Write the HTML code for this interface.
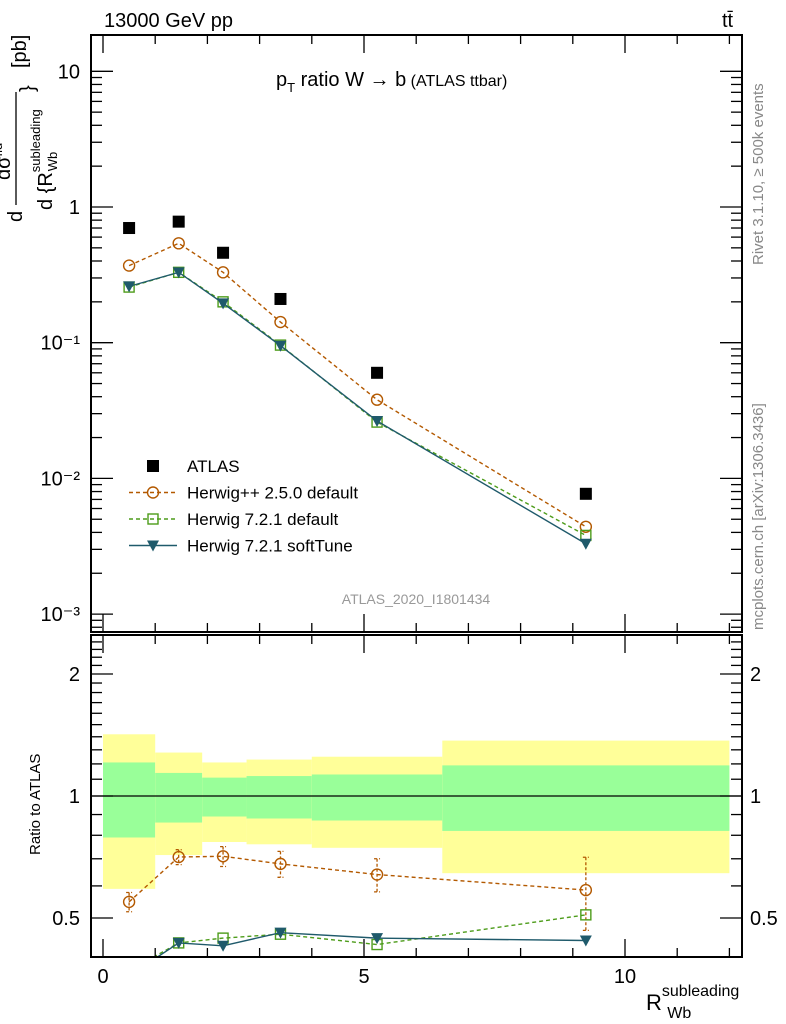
<!DOCTYPE html>
<html><head><meta charset="utf-8"><style>
body{margin:0;background:#fff;}
svg{display:block;font-family:"Liberation Sans",sans-serif;}
</style></head><body>
<svg id="chart" width="786" height="1024" viewBox="0 0 786 1024" xmlns="http://www.w3.org/2000/svg">
<defs>
<clipPath id="clipMain"><rect x="91" y="35" width="651" height="597"/></clipPath>
<clipPath id="clipRatio"><rect x="91" y="635" width="651" height="322"/></clipPath>
</defs>
<text x="104" y="27" font-size="20">13000 GeV pp</text>
<text x="722" y="27" font-size="20">tt̄</text>
<text x="276" y="86" font-size="20">p<tspan font-size="13" dy="6">T</tspan><tspan dy="-6"> ratio W</tspan><tspan> → b</tspan><tspan font-size="16"> (ATLAS ttbar)</tspan></text>
<g transform="rotate(-90)">
  <text x="-222" y="22" font-size="20">d</text>
  <line x1="-205" y1="16" x2="-92" y2="16" stroke="#000" stroke-width="1.3"/>
  <text x="-180" y="10" font-size="20">dσ<tspan font-size="13" dy="-8">fid</tspan></text>
  <text x="-210" y="52" font-size="20">d {R<tspan font-size="13" dy="-12">subleading</tspan><tspan font-size="13" dx="-62" dy="17">Wb</tspan></text>
  <text x="-92" y="34" font-size="20">}</text>
  <text x="-68" y="26" font-size="20">[pb]</text>
</g>
<text transform="translate(40,855) rotate(-90)" font-size="15">Ratio to ATLAS</text>
<text transform="translate(763,265) rotate(-90)" font-size="15" fill="#888">Rivet 3.1.10, ≥ 500k events</text>
<text transform="translate(763,630) rotate(-90)" font-size="15" fill="#888">mcplots.cern.ch [arXiv:1306.3436]</text>
<text x="416" y="604" font-size="14" fill="#999" text-anchor="middle">ATLAS_2020_I1801434</text>
<text x="646" y="1010" font-size="22">R<tspan font-size="16" dy="-14">subleading</tspan><tspan font-size="16" dx="-72" dy="22">Wb</tspan></text>
<g id="bands" clip-path="url(#clipRatio)"></g>
<g id="marksMain" clip-path="url(#clipMain)"></g>
<g id="marksRatio" clip-path="url(#clipRatio)"></g>
<g id="axes"></g>
<g id="legend"></g>
</svg>
<script>
const binEdges=[0,1,1.9,2.75,4,6.5,12];
const xCenters=[0.5,1.45,2.3,3.4,5.25,9.25];
const atlas=[0.70,0.78,0.46,0.21,0.060,0.0077];
const hwpp=[0.37,0.54,0.33,0.142,0.038,0.0044];
const hw7=[0.257,0.33,0.20,0.096,0.026,0.0038];
const hw7soft=[0.26,0.33,0.195,0.095,0.0265,0.0033];
const ratioHwpp=[0.548,0.707,0.71,0.68,0.64,0.586];
const ratioHwppErr=[0.03,0.03,0.04,0.05,0.06,0.12];
const ratioHw7=[0.37,0.434,0.446,0.456,0.43,0.509];
const ratioHw7soft=[0.36,0.434,0.427,0.46,0.446,0.44];
const yellowHi=[1.42,1.28,1.21,1.23,1.25,1.37];
const yellowLo=[0.59,0.715,0.77,0.76,0.745,0.645];
const greenHi=[1.21,1.14,1.11,1.12,1.13,1.19];
const greenLo=[0.79,0.86,0.89,0.88,0.87,0.82];
const mainTicks=[10,1,0.1,0.01,0.001];
const mainTickLabels=["10","1","10⁻¹","10⁻²","10⁻³"];
const ratioTicks=[2,1,0.5];
const ratioTickLabels=["2","1","0.5"];
const xTicks=[0,5,10];
const xTickLabels=["0","5","10"];

const L=91,R=742,T=35,MB=632,RT=635,RB=957;
const X=v=>103+v*52.2;
const YM=v=>207-Math.log10(v)*135.7;
const YR=v=>796-Math.log2(v)*122;
const NS="http://www.w3.org/2000/svg";
function mk(parent,tag,attrs){const e=document.createElementNS(NS,tag);for(const k in attrs)e.setAttribute(k,attrs[k]);parent.appendChild(e);return e;}
const bands=document.getElementById('bands'),mm=document.getElementById('marksMain'),mr=document.getElementById('marksRatio'),ax=document.getElementById('axes'),lg=document.getElementById('legend');

for(let i=0;i<xCenters.length;i++){
  const x1=X(binEdges[i]),x2=X(binEdges[i+1]);
  let r=mk(bands,'rect',{x:x1,y:YR(yellowHi[i]),width:x2-x1,height:YR(yellowLo[i])-YR(yellowHi[i]),fill:'#ffff99'});
  
  
  r=mk(bands,'rect',{x:x1,y:YR(greenHi[i]),width:x2-x1,height:YR(greenLo[i])-YR(greenHi[i]),fill:'#99ff99'});
  
  
}
let ref=mk(mr,'line',{x1:L,x2:R,y1:YR(1),y2:YR(1),stroke:'#000','stroke-width':1.2});



function marker(g,type,x,y,color){
  let m;
  if(type==='circle')m=mk(g,'circle',{cx:x,cy:y,r:5.5,fill:'none',stroke:color,'stroke-width':1.4});
  else if(type==='square')m=mk(g,'rect',{x:x-5,y:y-5,width:10,height:10,fill:'none',stroke:color,'stroke-width':1.4});
  else if(type==='tri')m=mk(g,'path',{d:`M${x-6},${y-5}L${x+6},${y-5}L${x},${y+6}Z`,fill:color});
  else m=mk(g,'rect',{x:x-6,y:y-6,width:12,height:12,fill:color});
  return m;
}
function series(g,vals,Y,color,dash,type,name){
  const pts=xCenters.map((x,i)=>X(x)+','+Y(vals[i])).join(' ');
  if(type!=='filled'){
    const pl=mk(g,'polyline',{points:pts,fill:'none',stroke:color,'stroke-width':1.4,'stroke-dasharray':dash});
    
    
  }
  vals.forEach((v,i)=>{const m=marker(g,type,X(xCenters[i]),Y(v),color);
    
    });
}
series(mm,atlas,YM,'#000','','filled','atlas');
series(mm,hwpp,YM,'#b35900','4,3','circle','herwigpp');
series(mm,hw7,YM,'#4d9c1a','4,3','square','herwig7-default');
series(mm,hw7soft,YM,'#1f5a6b','','tri','herwig7-softtune');
ratioHwpp.forEach((v,i)=>{const x=X(xCenters[i]);
  const e=mk(mr,'path',{d:`M${x},${YR(v+ratioHwppErr[i])}V${YR(v-ratioHwppErr[i])}M${x-3},${YR(v+ratioHwppErr[i])}h6M${x-3},${YR(v-ratioHwppErr[i])}h6`,stroke:'#b35900','stroke-width':1.3,'stroke-dasharray':'3,2',fill:'none'});
  
  });
series(mr,ratioHwpp,YR,'#b35900','4,3','circle','herwigpp-ratio');
series(mr,ratioHw7,YR,'#4d9c1a','4,3','square','herwig7-default-ratio');
series(mr,ratioHw7soft,YR,'#1f5a6b','','tri','herwig7-softtune-ratio');

let f=mk(ax,'rect',{x:L,y:T,width:R-L,height:MB-T,fill:'none',stroke:'#000','stroke-width':2});


f=mk(ax,'rect',{x:L,y:RT,width:R-L,height:RB-RT,fill:'none',stroke:'#000','stroke-width':2});


for(let v=0;v<=12;v++){const x=X(v),len=(v%5===0)?18:9;
  [[T,1],[MB,-1],[RT,1],[RB,-1]].forEach(([y0,d])=>mk(ax,'line',{x1:x,x2:x,y1:y0,y2:y0+d*len,stroke:'#000','stroke-width':1.3}));}
xTicks.forEach((v,i)=>{const t=mk(ax,'text',{x:X(v),y:983,'font-size':20,'text-anchor':'middle'});t.textContent=xTickLabels[i];
  
  });
for(let d=-4;d<=1;d++)for(let k=1;k<=9;k++){const v=k*Math.pow(10,d),y=YM(v);if(y<T||y>MB)continue;const len=k===1?22:11;
  mk(ax,'line',{x1:L,x2:L+len,y1:y,y2:y,stroke:'#000','stroke-width':1.3});
  mk(ax,'line',{x1:R,x2:R-len,y1:y,y2:y,stroke:'#000','stroke-width':1.3});}
mainTicks.forEach((v,i)=>{const t=mk(ax,'text',{x:80,y:YM(v)+7,'font-size':20,'text-anchor':'end'});t.textContent=mainTickLabels[i];
  
  });
for(let v=0.4;v<=2.51;v+=0.1){const y=YR(v);if(y<RT||y>RB)continue;const maj=[0.5,1,2].some(m=>Math.abs(m-v)<1e-6);const len=maj?22:11;
  mk(ax,'line',{x1:L,x2:L+len,y1:y,y2:y,stroke:'#000','stroke-width':1.3});
  mk(ax,'line',{x1:R,x2:R-len,y1:y,y2:y,stroke:'#000','stroke-width':1.3});}
ratioTicks.forEach((v,i)=>{let t=mk(ax,'text',{x:80,y:YR(v)+7,'font-size':20,'text-anchor':'end'});t.textContent=ratioTickLabels[i];
  
  
  t=mk(ax,'text',{x:750,y:YR(v)+7,'font-size':20});t.textContent=ratioTickLabels[i];
  
  });
const legNames=["ATLAS","Herwig++ 2.5.0 default","Herwig 7.2.1 default","Herwig 7.2.1 softTune"];
const legTypes=['filled','circle','square','tri'],legColors=['#000','#b35900','#4d9c1a','#1f5a6b'],legDash=['','4,3','4,3',''];
legNames.forEach((n,i)=>{const y=466+i*26.5;const g=mk(lg,'g',{});
  
  
  if(i>0)mk(g,'line',{x1:129,x2:177,y1:y,y2:y,stroke:legColors[i],'stroke-width':1.4,'stroke-dasharray':legDash[i]});
  marker(g,legTypes[i],153,y,legColors[i]);
  const t=mk(g,'text',{x:187,y:y+6,'font-size':17});t.textContent=n;});
</script>
</body></html>
